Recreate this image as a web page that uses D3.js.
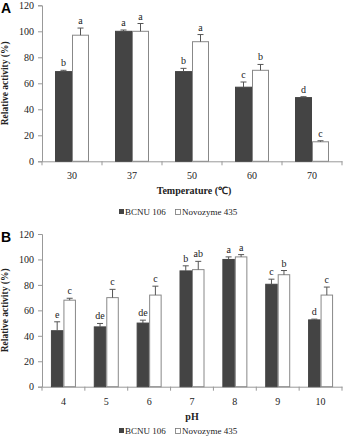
<!DOCTYPE html>
<html><head><meta charset="utf-8">
<script src="https://cdn.jsdelivr.net/npm/d3@7"></script>
<style>body{margin:0;background:#fff}svg{display:block}</style>
</head><body>
<svg id="c" width="344" height="437"></svg>
<script>
const tempCats = ["30","37","50","60","70"];
const tempBCNU = [69, 100, 69, 57, 49];
const tempBCNUErr = [1, 1, 2.5, 4, 0.7];
const tempNovo = [97, 100, 92, 70, 15];
const tempNovoErr = [5.5, 6, 5.5, 4.5, 0.8];
const tempBCNULabels = ["b","a","b","c","d"];
const tempNovoLabels = ["a","a","a","b","c"];

const phCats = ["4","5","6","7","8","9","10"];
const phBCNU = [44, 47, 50, 91, 100, 80.5, 52.5];
const phBCNUErr = [7, 2.7, 2.3, 4, 2, 4, 0.6];
const phNovo = [68, 70, 72, 92, 102, 88, 72];
const phNovoErr = [1.5, 6.5, 7, 6.5, 1.8, 3.3, 6.3];
const phBCNULabels = ["e","de","de","b","a","c","d"];
const phNovoLabels = ["c","c","c","ab","a","b","c"];

const yTicks = [0,20,40,60,80,100,120];
const seriesNames = ["BCNU 106","Novozyme 435"];

const svg = d3.select("#c");
const serif = "'Liberation Serif','Times New Roman',serif";

function panel(o){
  const g = svg.append("g");
  const x = d3.scaleBand().domain(o.cats).range([42,342]).paddingInner(0).paddingOuter(0);
  const y = d3.scaleLinear().domain([0,120]).range([o.y0,o.y120]);
  const bw = o.bw;
  const ya = g.append("g").attr("transform","translate(42,0)")
    .call(d3.axisLeft(y).tickValues(yTicks).tickSize(4).tickPadding(4));
  ya.select(".domain").attr("stroke","#999");
  ya.selectAll(".tick line").attr("stroke","#999");
  ya.selectAll("text").attr("font-family",serif).attr("font-size",10).attr("fill","#222");
  const xa = g.append("g").attr("transform",`translate(0,${o.y0})`)
    .call(d3.axisBottom(x).tickSize(0).tickPadding(11));
  xa.select(".domain").attr("stroke","#999");
  xa.selectAll("text").attr("font-family",serif).attr("font-size",10).attr("fill","#222");
  g.selectAll(".bt").data(o.cats.concat(["__end"])).join("line")
    .attr("x1",(d,i)=>42+i*x.bandwidth()).attr("x2",(d,i)=>42+i*x.bandwidth())
    .attr("y1",o.y0).attr("y2",o.y0+4).attr("stroke","#999");
  const series = [
    {vals:o.a, err:o.ae, lab:o.al, off:-bw, fill:"#444", stroke:"#444"},
    {vals:o.b, err:o.be, lab:o.bl, off:0, fill:"#fff", stroke:"#888"}
  ];
  series.forEach(s=>{
    const cx = (i)=>x(o.cats[i])+x.bandwidth()/2+s.off;
    g.selectAll(null).data(s.vals).join("rect")
      .attr("x",(d,i)=>cx(i)+0.5).attr("width",bw-1)
      .attr("y",d=>y(d)).attr("height",d=>o.y0-y(d))
      .attr("fill",s.fill).attr("stroke",s.stroke).attr("stroke-width",1);
    g.selectAll(null).data(s.vals).join("line")
      .attr("x1",(d,i)=>cx(i)+bw/2).attr("x2",(d,i)=>cx(i)+bw/2)
      .attr("y1",d=>y(d)).attr("y2",(d,i)=>y(d+s.err[i])).attr("stroke","#555");
    g.selectAll(null).data(s.vals).join("line")
      .attr("x1",(d,i)=>cx(i)+bw/2-3).attr("x2",(d,i)=>cx(i)+bw/2+3)
      .attr("y1",(d,i)=>y(d+s.err[i])).attr("y2",(d,i)=>y(d+s.err[i])).attr("stroke","#555");
    g.selectAll(null).data(s.lab).join("text")
      .attr("x",(d,i)=>cx(i)+bw/2).attr("y",(d,i)=>y(s.vals[i]+s.err[i])-4)
      .attr("text-anchor","middle").attr("font-family",serif).attr("font-size",10).attr("fill","#222")
      .text(d=>d);
  });
  g.append("text").attr("x",1).attr("y",o.y120+8).attr("font-family","'Liberation Sans',Arial,sans-serif")
    .attr("font-weight","bold").attr("font-size",14).text(o.letter);
  g.append("text").attr("transform",`translate(8,${(o.y0+o.y120)/2}) rotate(-90)`)
    .attr("text-anchor","middle").attr("font-family",serif).attr("font-weight","bold").attr("font-size",9.5)
    .attr("fill","#222").text("Relative activity (%)");
  g.append("text").attr("x",o.titleX).attr("y",o.titleY).attr("text-anchor","middle")
    .attr("font-family",serif).attr("font-weight","bold").attr("font-size",10).attr("fill","#222").text(o.xTitle);
  const lg = g.append("g").attr("transform",`translate(119,${o.legY})`);
  lg.append("rect").attr("x",0).attr("y",-6).attr("width",5).attr("height",5).attr("fill","#444");
  lg.append("text").attr("x",6).attr("y",0).attr("font-family",serif).attr("font-size",9).attr("fill","#222").text(seriesNames[0]);
  lg.append("rect").attr("x",56.5).attr("y",-5.5).attr("width",5).attr("height",5).attr("fill","#fff").attr("stroke","#777").attr("stroke-width",0.8);
  lg.append("text").attr("x",63).attr("y",0).attr("font-family",serif).attr("font-size",9).attr("fill","#222").text(seriesNames[1]);
}

panel({cats:tempCats,a:tempBCNU,ae:tempBCNUErr,al:tempBCNULabels,b:tempNovo,be:tempNovoErr,bl:tempNovoLabels,
  y0:161.3,y120:5.3,bw:17,letter:"A",xTitle:"Temperature (℃)",titleX:194,titleY:194,legY:215});
panel({cats:phCats,a:phBCNU,ae:phBCNUErr,al:phBCNULabels,b:phNovo,be:phNovoErr,bl:phNovoLabels,
  y0:386.7,y120:234,bw:12.5,letter:"B",xTitle:"pH",titleX:192,titleY:420,legY:434});
</script>
</body></html>
